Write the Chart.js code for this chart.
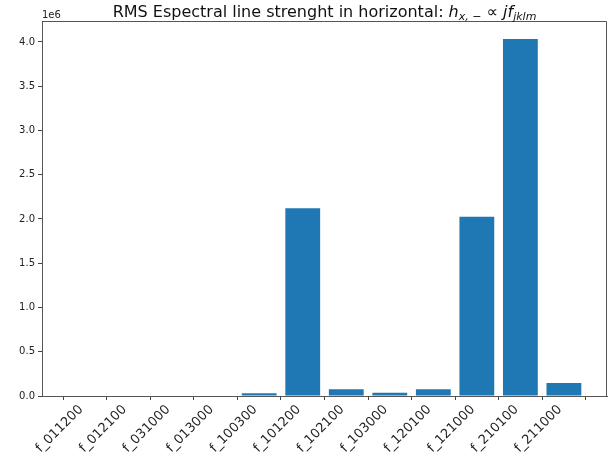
<!DOCTYPE html>
<html>
<head>
<meta charset="utf-8">
<script src="https://cdn.jsdelivr.net/npm/chart.js@4"></script>
<style>
  html, body { margin: 0; padding: 0; background: #fff; }
  #wrap { width: 615px; height: 462px; }
</style>
</head>
<body>
<div id="wrap"><canvas id="lineChart" width="615" height="462"></canvas></div>
<script>
/* ================================================
   DATA
================================================ */
const lineLabels = ['f_011200', 'f_012100', 'f_031000', 'f_013000', 'f_100300', 'f_101200',
                    'f_102100', 'f_103000', 'f_120100', 'f_121000', 'f_210100', 'f_211000'];
const lineStrength = [0, 0, 0, 0, 30000, 2120000, 76000, 37000, 76000, 2025000, 4035000, 147000];
const yTicks = [0, 0.5, 1.0, 1.5, 2.0, 2.5, 3.0, 3.5, 4.0];   // x 1e6

const titleParts = [
  { text: 'RMS Espectral line strenght in horizontal: ', style: 'normal', sub: false },
  { text: 'h',     style: 'italic', sub: false },
  { text: 'x, \u2212', style: 'italic', sub: true },
  { text: ' \u221D ', style: 'normal', sub: false },
  { text: 'jf',    style: 'italic', sub: false },
  { text: 'jklm',  style: 'italic', sub: true },
];

const FONT = '"DejaVu Sans", sans-serif';

/* ================================================
   PLUGINS
================================================ */
const frameAndTitle = {
  id: 'frameAndTitle',
  afterDraw(chart) {
    const { ctx, chartArea: a } = chart;
    ctx.save();

    // top + right spines
    ctx.strokeStyle = '#555';
    ctx.lineWidth = 1;
    ctx.beginPath();
    ctx.moveTo(a.left, a.top + 0.5);
    ctx.lineTo(a.right - 0.5, a.top + 0.5);
    ctx.lineTo(a.right - 0.5, a.bottom);
    ctx.stroke();

    // offset text
    ctx.fillStyle = '#222';
    ctx.font = '10px ' + FONT;
    ctx.textAlign = 'left';
    ctx.textBaseline = 'alphabetic';
    ctx.fillText('1e6', a.left, a.top - 3);

    // title with subscripts
    const fontFor = p => `${p.style} ${p.sub ? 11 : 16}px ${FONT}`;
    let total = 0;
    titleParts.forEach(p => { ctx.font = fontFor(p); total += ctx.measureText(p.text).width; });
    let x = (a.left + a.right) / 2 - total / 2;
    const base = 17;
    titleParts.forEach(p => {
      ctx.font = fontFor(p);
      ctx.fillStyle = '#111';
      ctx.fillText(p.text, x, base + (p.sub ? 3 : 0));
      x += ctx.measureText(p.text).width;
    });
    ctx.restore();
  }
};

/* ================================================
   CHART
================================================ */
new Chart(document.getElementById('lineChart'), {
  type: 'bar',
  data: {
    datasets: [{
      data: lineStrength.map((v, i) => ({ x: i, y: v })),
      backgroundColor: '#1f77b4',
      borderWidth: 0,
      barPercentage: 0.8,
      categoryPercentage: 1,
    }],
  },
  options: {
    responsive: false,
    animation: false,
    events: [],
    layout: { padding: { top: 21, right: 8, left: 0, bottom: 0 } },
    plugins: { legend: { display: false }, tooltip: { enabled: false } },
    scales: {
      x: {
        type: 'linear',
        offset: false,
        min: -0.99,
        max: 11.99,
        afterBuildTicks: s => { s.ticks = lineLabels.map((_, i) => ({ value: i })); },
        afterFit: s => { s.height = 66; },
        grid: { drawOnChartArea: false, drawTicks: true, tickLength: 4, color: '#444' },
        border: { display: true, color: '#555' },
        ticks: {
          autoSkip: false,
          minRotation: 45,
          maxRotation: 45,
          padding: 2,
          labelOffset: -4,
          color: '#222',
          font: { family: FONT, size: 13 },
          callback: v => lineLabels[v],
        },
      },
      y: {
        min: 0,
        max: 4237000,
        afterBuildTicks: s => { s.ticks = yTicks.map(v => ({ value: v * 1e6 })); },
        afterFit: s => { s.width = 42; },
        grid: { drawOnChartArea: false, drawTicks: true, tickLength: 4, color: '#444' },
        border: { display: true, color: '#555' },
        ticks: {
          padding: 3,
          color: '#222',
          font: { family: FONT, size: 10 },
          callback: v => (v / 1e6).toFixed(1),
        },
      },
    },
  },
  plugins: [frameAndTitle],
});
</script>
</body>
</html>
